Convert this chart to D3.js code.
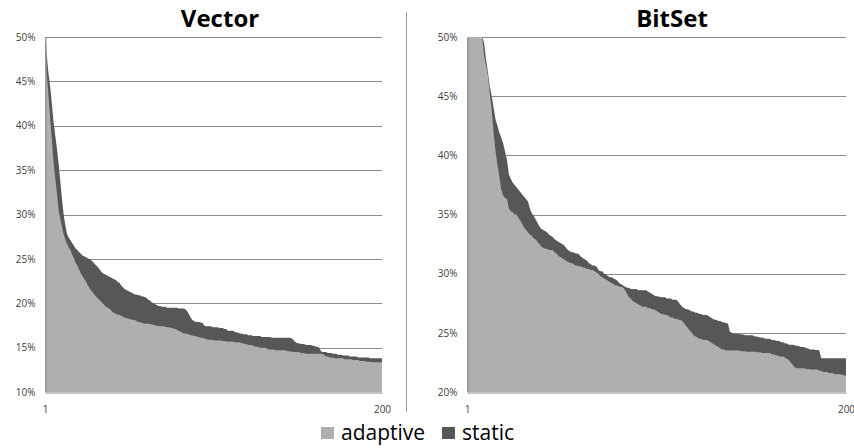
<!DOCTYPE html>
<html>
<head>
<meta charset="utf-8">
<script src="https://d3js.org/d3.v7.min.js"></script>
<style>
  body { margin: 0; background: #fff; }
  svg { display: block; font-family: "Open Sans", sans-serif; }
</style>
</head>
<body>
<svg id="chart"></svg>
<script>
// Run index 1..200
const runIndex = d3.range(1, 201);

// Vector panel (values in %)
const vecAdaptive = [
  50, 46, 43.5, 41, 38.5, 36, 34.2, 32.5, 30.5, 29.5,
  28.6, 27.8, 27.2, 26.7, 26.3, 26.0, 25.5, 25.1, 24.6, 24.3,
  23.9, 23.4, 23.1, 22.8, 22.5, 22.1, 21.8, 21.5, 21.3, 21.0,
  20.8, 20.6, 20.4, 20.2, 20.0, 19.8, 19.6, 19.5, 19.4, 19.2,
  19.0, 18.9, 18.8, 18.7, 18.7, 18.6, 18.5, 18.4, 18.3, 18.3,
  18.2, 18.2, 18.1, 18.1, 18.0, 17.9, 17.9, 17.8, 17.75, 17.7,
  17.7, 17.7, 17.65, 17.6, 17.6, 17.5, 17.5, 17.45, 17.4, 17.4,
  17.4, 17.35, 17.3, 17.3, 17.25, 17.2, 17.15, 17.1, 17.0, 16.9,
  16.8, 16.7, 16.6, 16.6, 16.5, 16.5, 16.4, 16.4, 16.3, 16.3,
  16.2, 16.2, 16.1, 16.1, 16.0, 16.0, 15.9, 15.9, 15.9, 15.85,
  15.8, 15.8, 15.8, 15.8, 15.8, 15.75, 15.75, 15.7, 15.7, 15.7,
  15.7, 15.7, 15.6, 15.6, 15.6, 15.6, 15.5, 15.5, 15.4, 15.4,
  15.3, 15.3, 15.3, 15.2, 15.1, 15.1, 15.1, 15.0, 15.0, 15.0,
  15.0, 14.9, 14.8, 14.8, 14.8, 14.8, 14.7, 14.7, 14.7, 14.7,
  14.7, 14.7, 14.7, 14.6, 14.6, 14.6, 14.5, 14.5, 14.5, 14.5,
  14.5, 14.4, 14.4, 14.4, 14.3, 14.3, 14.3, 14.3, 14.3, 14.3,
  14.3, 14.3, 14.3, 14.3, 14.3, 14.1, 14.0, 14.0, 13.9, 13.9,
  13.9, 13.8, 13.8, 13.8, 13.8, 13.8, 13.8, 13.7, 13.7, 13.7,
  13.7, 13.7, 13.6, 13.6, 13.6, 13.6, 13.5, 13.5, 13.5, 13.5,
  13.4, 13.4, 13.4, 13.35, 13.35, 13.35, 13.35, 13.35, 13.35, 13.35
];
const vecStatic = [
  50, 48, 46, 44.5, 42.6, 40.5, 39, 37.5, 35.8, 33.8,
  31.8, 30.0, 28.8, 27.8, 27.4, 27.1, 26.8, 26.5, 26.2, 26.0,
  25.8, 25.6, 25.4, 25.3, 25.2, 25.1, 25.0, 24.9, 24.7, 24.5,
  24.3, 24.1, 23.9, 23.6, 23.4, 23.3, 23.2, 23.1, 23.0, 22.9,
  22.8, 22.7, 22.6, 22.4, 22.3, 22.0, 21.8, 21.6, 21.5, 21.4,
  21.3, 21.2, 21.1, 21.0, 21.0, 20.9, 20.9, 20.8, 20.75, 20.7,
  20.6, 20.4, 20.3, 20.1, 20.0, 19.9, 19.8, 19.7, 19.7, 19.6,
  19.6, 19.6, 19.5, 19.5, 19.5, 19.5, 19.5, 19.5, 19.5, 19.4,
  19.4, 19.4, 19.4, 19.3, 19.1, 18.8, 18.4, 18.1, 18.0, 17.9,
  17.9, 17.9, 17.8, 17.8, 17.5, 17.4, 17.4, 17.4, 17.4, 17.3,
  17.3, 17.3, 17.3, 17.2, 17.2, 17.2, 17.1, 17.1, 16.9, 16.9,
  16.9, 16.9, 16.8, 16.7, 16.7, 16.6, 16.6, 16.5, 16.5, 16.5,
  16.4, 16.4, 16.4, 16.3, 16.3, 16.3, 16.3, 16.3, 16.2, 16.2,
  16.2, 16.2, 16.2, 16.2, 16.1, 16.1, 16.1, 16.1, 16.1, 16.1,
  16.1, 16.1, 16.1, 16.1, 16.1, 16.1, 16.0, 15.8, 15.6, 15.5,
  15.5, 15.4, 15.4, 15.4, 15.3, 15.3, 15.3, 15.3, 15.2, 15.2,
  15.1, 15.1, 15.0, 14.6, 14.5, 14.5, 14.5, 14.4, 14.4, 14.4,
  14.3, 14.3, 14.3, 14.2, 14.2, 14.2, 14.1, 14.1, 14.1, 14.1,
  14.0, 14.0, 14.0, 14.0, 14.0, 13.9, 13.9, 13.9, 13.9, 13.9,
  13.9, 13.9, 13.8, 13.8, 13.8, 13.8, 13.8, 13.8, 13.8, 13.8
];
const vecTicks = [10, 15, 20, 25, 30, 35, 40, 45, 50];

// BitSet panel (values in %)
const bitAdaptive = [
  50, 50, 50, 50, 50, 50, 50, 50, 50, 48.4,
  47.6, 46.7, 45.2, 43.8, 41.8, 40.3, 39.2, 38.2, 37.1, 36.6,
  36.4, 36.3, 35.5, 35.3, 35.2, 35.0, 35.0, 34.7, 34.5, 34.2,
  33.9, 33.7, 33.5, 33.3, 33.2, 33.0, 32.9, 32.7, 32.5, 32.3,
  32.2, 32.1, 32.1, 32.0, 32.0, 32.0, 31.8, 31.7, 31.5, 31.4,
  31.3, 31.2, 31.1, 31.0, 30.9, 30.9, 30.8, 30.7, 30.7, 30.6,
  30.6, 30.5, 30.5, 30.4, 30.4, 30.3, 30.3, 30.2, 30.1, 30.0,
  29.8, 29.7, 29.6, 29.5, 29.4, 29.3, 29.2, 29.1, 29.0, 29.0,
  28.9, 28.9, 28.8, 28.6, 28.3, 28.0, 27.9, 27.7, 27.6, 27.5,
  27.4, 27.3, 27.2, 27.2, 27.2, 27.1, 27.1, 27.0, 27.0, 26.9,
  26.8, 26.7, 26.6, 26.6, 26.5, 26.5, 26.4, 26.3, 26.3, 26.2,
  26.2, 26.1, 26.1, 26.0, 25.8, 25.6, 25.4, 25.2, 25.0, 24.8,
  24.7, 24.6, 24.5, 24.5, 24.4, 24.4, 24.4, 24.3, 24.2, 24.1,
  24.0, 23.9, 23.8, 23.7, 23.6, 23.6, 23.5, 23.5, 23.5, 23.5,
  23.5, 23.5, 23.5, 23.5, 23.45, 23.45, 23.45, 23.4, 23.4, 23.4,
  23.4, 23.4, 23.35, 23.35, 23.35, 23.3, 23.3, 23.3, 23.3, 23.3,
  23.2, 23.2, 23.1, 23.1, 23.0, 23.0, 23.0, 22.9, 22.8, 22.7,
  22.5, 22.3, 22.1, 22.0, 22.0, 22.0, 22.0, 22.0, 21.95, 21.95,
  21.9, 21.9, 21.9, 21.9, 21.9, 21.8, 21.8, 21.7, 21.7, 21.7,
  21.6, 21.6, 21.6, 21.5, 21.5, 21.5, 21.5, 21.45, 21.4, 21.4
];
const bitStatic = [
  50, 50, 50, 50, 50, 50, 50, 50, 50, 49.5,
  48.1, 47.0, 45.8, 45.0, 44.0, 43.0, 42.5, 41.9, 41.5, 41.0,
  40.3, 39.6, 38.4, 38.0, 37.7, 37.5, 37.3, 37.1, 36.9, 36.7,
  36.5, 36.3, 36.1, 35.5, 35.1, 34.9, 34.6, 34.3, 34.0, 33.8,
  33.7, 33.6, 33.5, 33.3, 33.2, 33.1, 32.9, 32.8, 32.7, 32.6,
  32.5, 32.4, 32.2, 32.0, 31.9, 31.8, 31.8, 31.7, 31.7, 31.6,
  31.4, 31.3, 31.2, 31.1, 30.9, 30.8, 30.7, 30.7, 30.6, 30.3,
  30.2, 30.2, 30.0, 29.9, 29.8, 29.7, 29.7, 29.6, 29.5, 29.4,
  29.2, 29.1, 29.0, 28.9, 28.8, 28.8, 28.7, 28.7, 28.7, 28.7,
  28.6, 28.6, 28.6, 28.6, 28.6, 28.5, 28.4, 28.3, 28.2, 28.1,
  28.1, 28.05, 28.0, 28.0, 28.0, 27.9, 27.9, 27.9, 27.8, 27.8,
  27.8, 27.6, 27.4, 27.2, 27.1, 27.0, 27.0, 26.9, 26.8, 26.8,
  26.7, 26.7, 26.6, 26.6, 26.5, 26.5, 26.5, 26.4, 26.3, 26.2,
  26.1, 26.1, 26.0, 26.0, 25.9, 25.9, 25.8, 25.8, 25.1, 25.0,
  24.95, 24.9, 24.9, 24.9, 24.85, 24.85, 24.8, 24.8, 24.8, 24.8,
  24.8, 24.7, 24.7, 24.65, 24.6, 24.6, 24.55, 24.5, 24.5, 24.5,
  24.4, 24.4, 24.35, 24.3, 24.3, 24.2, 24.2, 24.1, 24.1, 24.0,
  24.0, 24.0, 23.95, 23.9, 23.9, 23.8, 23.8, 23.8, 23.7, 23.7,
  23.6, 23.6, 23.6, 23.55, 23.55, 23.5, 22.85, 22.85, 22.85, 22.85,
  22.85, 22.85, 22.85, 22.85, 22.85, 22.85, 22.85, 22.85, 22.85, 22.85
];
const bitTicks = [20, 25, 30, 35, 40, 45, 50];

const xTickLabels = [1, 200];
const seriesNames = ["adaptive", "static"];
const seriesColors = ["#afafaf", "#575757"];

// Set up chart dimensions
const width = 854;
const height = 448;

const svg = d3.select("#chart")
    .attr("width", width)
    .attr("height", height);

// Separator between the two panels
svg.append("line")
    .attr("x1", 406.5).attr("x2", 406.5)
    .attr("y1", 12).attr("y2", 412)
    .attr("stroke", "#9a9a9a");

function drawPanel(opts) {
    const x = d3.scaleLinear().domain([1, 200]).range([opts.left, opts.right]);
    const y = d3.scaleLinear().domain([opts.ticks[0], opts.ticks[opts.ticks.length - 1]])
        .range([392, 37]);

    const g = svg.append("g");
    const clipId = "clip-" + opts.name;
    svg.append("clipPath").attr("id", clipId)
        .append("rect")
        .attr("x", opts.left).attr("y", 37)
        .attr("width", opts.right - opts.left).attr("height", 392 - 37);

    // Title
    g.append("text")
        .attr("x", opts.titleX).attr("y", 27)
        .attr("text-anchor", "middle")
        .attr("font-size", 24).attr("font-weight", "bold")
        .attr("fill", "#000")
        .text(opts.title);

    // Gridlines (behind the areas)
    g.append("g")
        .selectAll("line")
        .data(opts.ticks.slice(1))
        .join("line")
        .attr("x1", opts.left).attr("x2", opts.right)
        .attr("y1", d => Math.round(y(d)) + 0.5)
        .attr("y2", d => Math.round(y(d)) + 0.5)
        .attr("stroke", "#8a8a8a");

    // Areas: static first, adaptive over it
    const area = vals => d3.area()
        .x((d, i) => x(runIndex[i]))
        .y0(y(opts.ticks[0]))
        .y1(d => y(d))(vals);

    g.append("path")
        .attr("d", area(opts.staticVals))
        .attr("fill", seriesColors[1])
        .attr("clip-path", `url(#${clipId})`);
    g.append("path")
        .attr("d", area(opts.adaptiveVals))
        .attr("fill", seriesColors[0])
        .attr("clip-path", `url(#${clipId})`);

    // Axes
    const yAxis = d3.axisLeft(y).tickValues(opts.ticks)
        .tickSize(0).tickPadding(10).tickFormat(d => d + "%");
    const ya = g.append("g")
        .attr("transform", `translate(${opts.left + 0.5},0)`)
        .call(yAxis);
    ya.select(".domain").attr("stroke", "#8a8a8a");
    ya.selectAll("text").attr("font-size", 10).attr("fill", "#404040")
        .attr("font-family", "Open Sans, sans-serif");

    const xAxis = d3.axisBottom(x).tickValues(xTickLabels)
        .tickSize(0).tickPadding(13);
    const xa = g.append("g")
        .attr("transform", `translate(0,${392.5})`)
        .call(xAxis);
    xa.select(".domain").attr("stroke", "#8a8a8a");
    xa.selectAll("text").attr("font-size", 10).attr("fill", "#404040")
        .attr("font-family", "Open Sans, sans-serif");
}

drawPanel({
    name: "vector", title: "Vector", titleX: 220,
    left: 45, right: 382,
    ticks: vecTicks, adaptiveVals: vecAdaptive, staticVals: vecStatic
});

drawPanel({
    name: "bitset", title: "BitSet", titleX: 672,
    left: 467, right: 846,
    ticks: bitTicks, adaptiveVals: bitAdaptive, staticVals: bitStatic
});

// Legend
const legendX = [321, 442];
const legend = svg.append("g")
    .selectAll("g")
    .data(seriesNames)
    .join("g")
    .attr("transform", (d, i) => `translate(${legendX[i]},427)`);

legend.append("rect")
    .attr("width", 13).attr("height", 12)
    .attr("fill", (d, i) => seriesColors[i]);

legend.append("text")
    .attr("x", 20).attr("y", 13)
    .attr("font-size", 21)
    .attr("fill", "#000")
    .text(d => d);
</script>
</body>
</html>
